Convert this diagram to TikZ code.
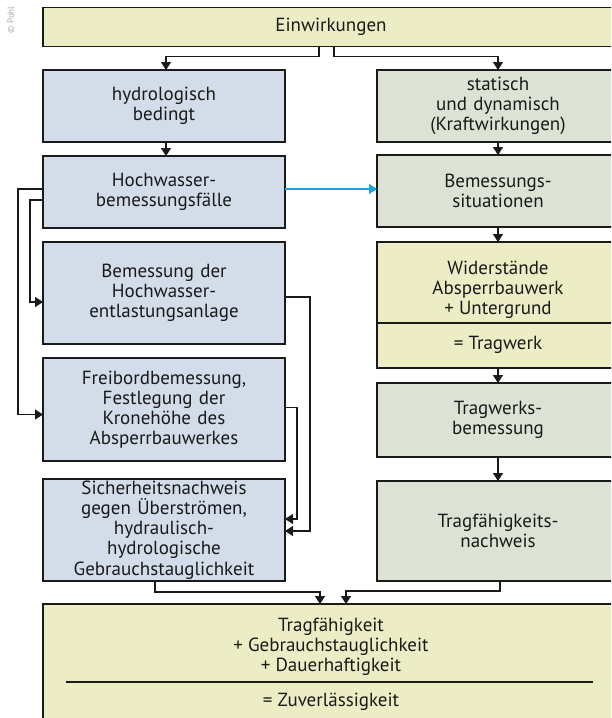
\documentclass[tikz,border=0pt]{standalone}
\usepackage{fontspec}
\setmainfont{PT Sans}
\usetikzlibrary{arrows.meta,positioning}
\definecolor{DiagBlack}{HTML}{1A1A1A}
\definecolor{DiagYellow}{HTML}{EDEDC5}
\definecolor{DiagBlue}{HTML}{D3DCE9}
\definecolor{DiagGreen}{HTML}{DCE3D5}
\definecolor{DiagCyan}{HTML}{1DA1E2}
\definecolor{DiagGrey}{HTML}{A8A8A8}
\tikzset{
    % Boxes with sharp corners
    box/.style={
        rectangle,
        draw=DiagBlack,
        line width=1.5pt,
        outer sep=0pt,
        inner sep=0pt,
        minimum width=242pt,
        text width=236pt,
        align=center,
        text=DiagBlack,
        font=\fontsize{19}{20.2}\selectfont
    },
    box hydro/.style={
        box,
        fill=DiagBlue
    },
    box static/.style={
        box,
        fill=DiagGreen
    },
    box result/.style={
        box,
        fill=DiagYellow
    },
    inner text/.style={
        align=center,
        inner sep=0pt,
        text=DiagBlack,
        font=\fontsize{19}{20.2}\selectfont
    },
    arrow/.style={
        -{Triangle[length=8pt,width=10pt]},
        line width=1.3pt,
        color=DiagBlack
    },
    arrow blue/.style={
        arrow,
        color=DiagCyan
    }
}
\begin{document}
\begin{tikzpicture}
    \useasboundingbox (0pt,0pt) rectangle (611pt,-718pt);
    \clip (0pt,0pt) rectangle (611pt,-718pt);

    \node[rotate=90, text=DiagGrey, font=\fontsize{9}{10}\selectfont, inner sep=0pt] (copy) at (11pt,-20pt) {\textcopyright\ Pohl};

    % Top row
    \node[box result, minimum width=576pt, text width=560pt, minimum height=39pt] (einw) at (331pt,-27pt) {Einwirkungen};

    % Left column
    \node[box hydro, minimum height=72pt, below right=23.5pt and 0pt of einw.south west] (hydro) {hydrologisch\\bedingt};
    \node[box hydro, minimum height=72pt, below=14pt of hydro] (hochw) {Hochwasser-\\bemessungsfälle};
    \node[box hydro, minimum height=102pt, below=14pt of hochw] (entl) {Bemessung der\\Hochwasser-\\entlastungsanlage};
    \node[box hydro, minimum height=103pt, below=14pt of entl] (freib) {Freibordbemessung,\\Festlegung der\\Kronehöhe des\\Absperrbauwerkes};
    \node[box hydro, minimum height=102pt, below=18pt of freib] (sicher) {Sicherheitsnachweis\\gegen Überströmen,\\hydraulisch-\\hydrologische\\Gebrauchstauglichkeit};

    % Right column
    \node[box static, minimum height=72pt, right=92pt of hydro] (stat) {statisch\\und dynamisch\\(Kraftwirkungen)};
    \node[box static, minimum height=72pt, below=13pt of stat] (situ) {Bemessungs-\\situationen};
    \node[box result, minimum height=126pt, below=15pt of situ] (wider) {};
    \node[box static, minimum height=74pt, below=15pt of wider] (tragw) {Tragwerks-\\bemessung};
    \node[box static, minimum height=100pt, below=24pt of tragw] (tfn) {Tragfähigkeits-\\nachweis};

    \node[inner text] (widtext) at ([yshift=-48pt]wider.north) {Widerstände\\Absperrbauwerk\\+ Untergrund};
    \node[inner text] (tragwerk) at ([yshift=-103pt]wider.north) {= Tragwerk};
    \draw[line width=1.2pt, DiagBlack] ([yshift=-81pt]wider.north west) -- ([yshift=-81pt]wider.north east);

    % Bottom row
    \node[box result, minimum width=576pt, text width=560pt, minimum height=140pt, below right=23pt and 0pt of sicher.south west] (zuv) {};
    \node[inner text] (summe) at ([yshift=-43pt]zuv.north) {Tragfähigkeit\\+ Gebrauchstauglichkeit\\+ Dauerhaftigkeit};
    \node[inner text] (gesamt) at ([yshift=-98pt]zuv.north) {= Zuverlässigkeit};
    \draw[line width=1.2pt, DiagBlack] ([xshift=23pt,yshift=-78pt]zuv.north west) -- ([xshift=-26pt,yshift=-78pt]zuv.north east);

    % Arrows
    \draw[arrow] ([xshift=-12pt]einw.south) -- ++(0,-10pt) -| ([xshift=2pt]hydro.north);
    \draw[arrow] ([xshift=3pt]einw.south) -- ++(0,-10pt) -| (stat.north);
    \draw[arrow] ([xshift=2pt]hydro.south) -- ([xshift=2pt]hochw.north);
    \draw[arrow] (stat) -- (situ);
    \draw[arrow blue] ([yshift=3pt]hochw.east) -- ([yshift=3pt]hochw.east -| situ.west);
    \draw[arrow] (situ) -- (wider);
    \draw[arrow] (wider) -- (tragw);
    \draw[arrow] (tragw) -- (tfn);

    % Feedback to the left boxes
    \draw[arrow] ([yshift=3pt]hochw.west) -- ++(-25pt,0) |- ([yshift=-5pt]freib.west);
    \draw[arrow] ([yshift=-8pt]hochw.west) -- ++(-13pt,0) |- ([yshift=-9pt]entl.west);
    \draw[arrow] ([yshift=-4pt]entl.east) -- ++(25pt,0) |- ([yshift=-1pt]sicher.east);
    \draw[arrow] ([yshift=2pt]freib.east) -- ++(12pt,0) |- ([yshift=11pt]sicher.east);

    % Into the result
    \draw[arrow] ([xshift=-9pt]sicher.south) -- ++(0,-11pt) -| ([xshift=-11pt]zuv.north);
    \draw[arrow] ([xshift=2pt]tfn.south) -- ++(0,-10pt) -| ([xshift=15pt]zuv.north);
\end{tikzpicture}
\end{document}
